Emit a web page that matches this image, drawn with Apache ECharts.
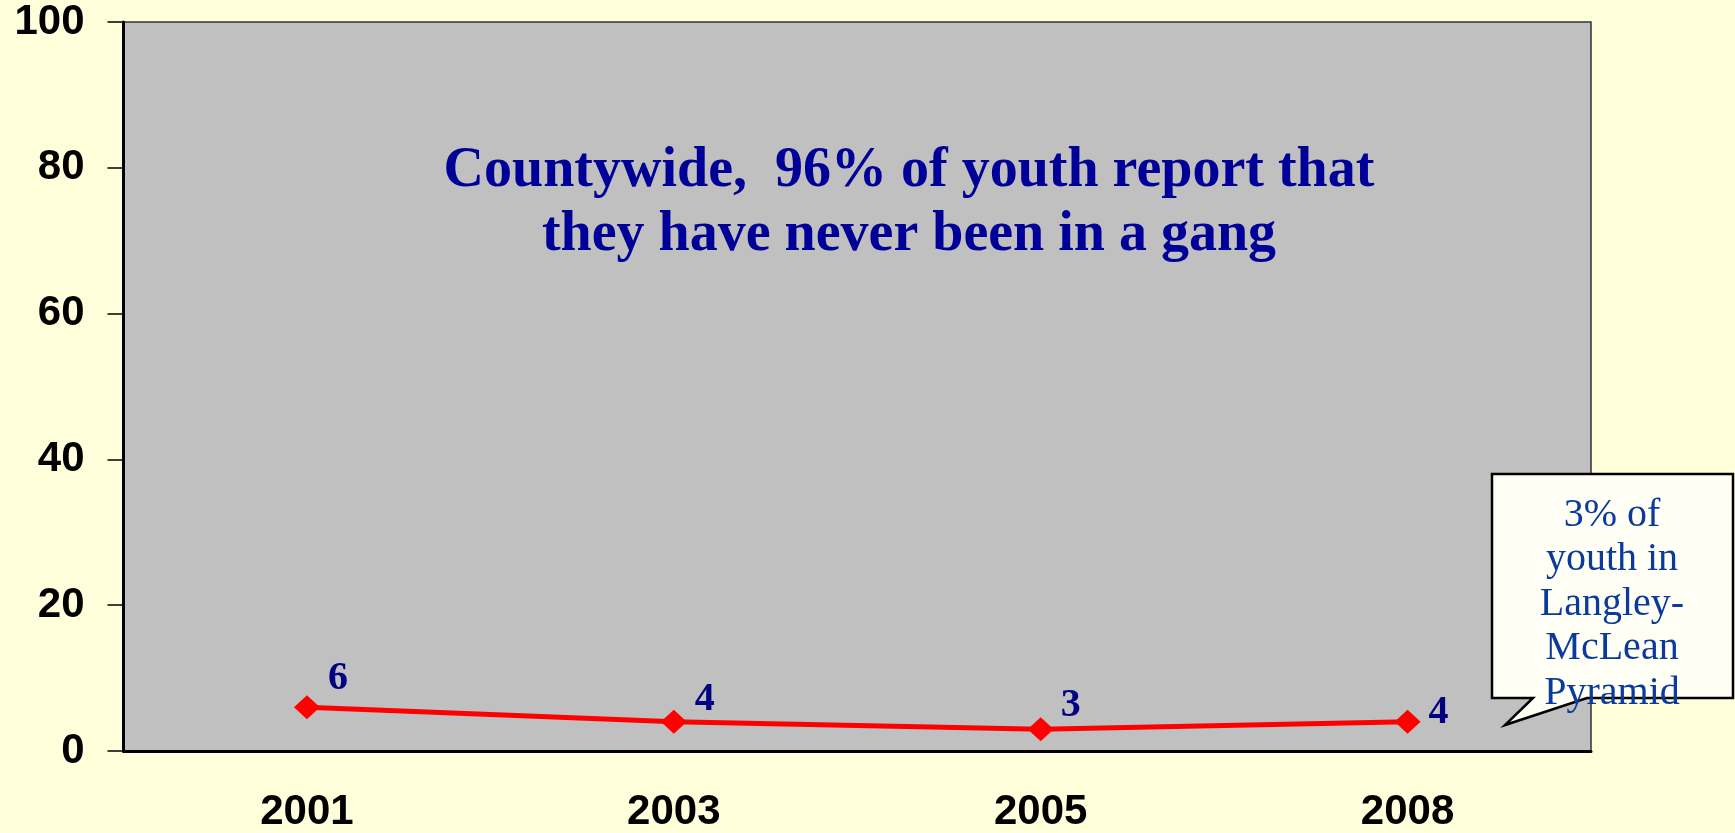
<!DOCTYPE html>
<html>
<head>
<meta charset="utf-8">
<style>
  html, body { margin: 0; padding: 0; background: #ffffdc; }
  #chart { width: 1735px; height: 833px; }
</style>
<script src="https://cdn.jsdelivr.net/npm/echarts@6/dist/echarts.min.js"></script>
</head>
<body>
<div id="chart"></div>
<script>
const years = ['2001', '2003', '2005', '2008'];
const gangPercent = [6, 4, 3, 4];
const yTicks = { min: 0, max: 100, step: 20 };
const titleLines = ['Countywide,  96% of youth report that', 'they have never been in a gang'];
const calloutLines = ['3% of', 'youth in', 'Langley-', 'McLean', 'Pyramid'];

// label offsets per point (px, relative to the marker)
const labelOffsets = [[31, -29], [31, -22], [30, -23], [31, -9]];

const chart = echarts.init(document.getElementById('chart'));

chart.setOption({
  backgroundColor: '#ffffdc',
  animation: false,
  grid: {
    left: 123.5,
    right: 144,
    top: 22,
    bottom: 79,
    show: true,
    backgroundColor: '#c0c0c0',
    borderColor: '#333',
    borderWidth: 1.5,
  },
  xAxis: {
    type: 'category',
    data: years,
    boundaryGap: true,
    axisLine: { lineStyle: { color: '#000', width: 3 } },
    axisTick: { length: 13, lineStyle: { color: '#000', width: 1.5 } },
    axisLabel: {
      margin: 40,
      color: '#000',
      fontFamily: 'Liberation Sans, Arial, sans-serif',
      fontWeight: 'bold',
      fontSize: 42,
    },
    splitLine: { show: false },
  },
  yAxis: {
    type: 'value',
    min: yTicks.min,
    max: yTicks.max,
    interval: yTicks.step,
    axisLine: { show: true, lineStyle: { color: '#000', width: 3 } },
    axisTick: { show: true, length: 16, lineStyle: { color: '#000', width: 1.5 } },
    axisLabel: {
      margin: 39,
      color: '#000',
      fontFamily: 'Liberation Sans, Arial, sans-serif',
      fontWeight: 'bold',
      fontSize: 42,
    },
    splitLine: { show: false },
  },
  series: [
    {
      type: 'line',
      data: gangPercent.map((v, i) => ({
        value: v,
        label: { offset: labelOffsets[i] },
      })),
      symbol: 'diamond',
      symbolSize: [26, 24],
      lineStyle: { color: '#ff0000', width: 5 },
      itemStyle: { color: '#ff0000' },
      label: {
        show: true,
        position: 'inside',
        align: 'center',
        verticalAlign: 'middle',
        color: '#000080',
        fontFamily: 'Liberation Serif, Times New Roman, serif',
        fontWeight: 'bold',
        fontSize: 40,
      },
      z: 3,
    },
  ],
  graphic: [
    {
      type: 'text',
      x: 909,
      y: 204,
      style: {
        text: titleLines.join('\n'),
        fill: '#000099',
        font: 'bold 56px "Liberation Serif", "Times New Roman", serif',
        lineHeight: 64,
        align: 'center',
        verticalAlign: 'middle',
      },
      z: 10,
    },
    {
      type: 'polygon',
      shape: {
        points: [
          [1492, 474], [1733, 474], [1733, 698], [1587, 698],
          [1505, 725], [1533, 698], [1492, 698],
        ],
      },
      style: { fill: '#fffff6', stroke: '#000', lineWidth: 2.5 },
      z: 10,
    },
    {
      type: 'text',
      x: 1612,
      y: 604,
      style: {
        text: calloutLines.join('\n'),
        fill: '#0a3a9c',
        font: '40px "Liberation Serif", "Times New Roman", serif',
        lineHeight: 44.5,
        align: 'center',
        verticalAlign: 'middle',
      },
      z: 11,
    },
  ],
});
</script>
</body>
</html>
